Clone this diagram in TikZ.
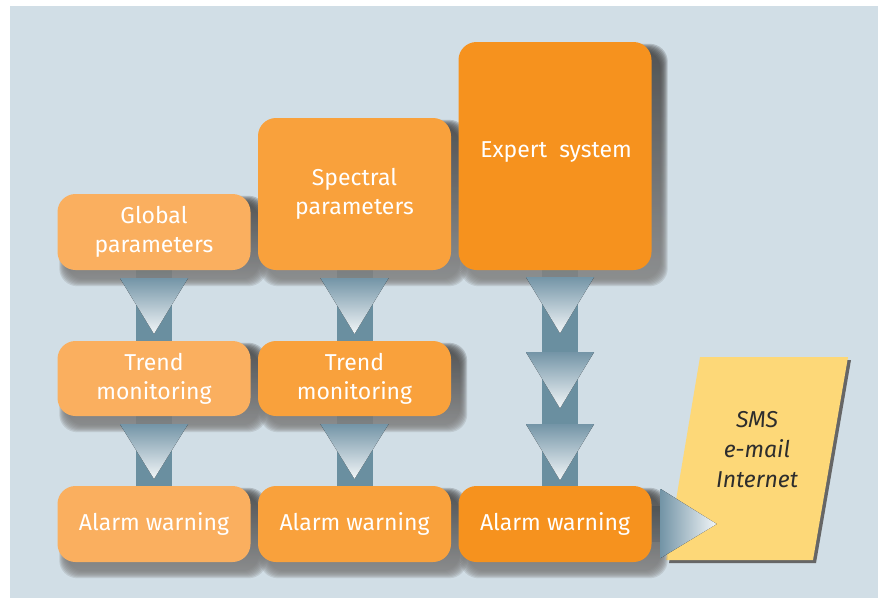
\documentclass[tikz,border=0pt]{standalone}
\usepackage{fontspec}
\setmainfont{Fira Sans}
\usepackage{tikz}
\usetikzlibrary{calc}

\definecolor{bgblue}{RGB}{209,222,230}
\definecolor{orangeA}{RGB}{250,175,95}
\definecolor{orangeB}{RGB}{249,161,60}
\definecolor{orangeC}{RGB}{246,146,30}
\definecolor{steel}{RGB}{106,143,160}
\definecolor{steeltop}{RGB}{116,149,167}
\definecolor{steelend}{RGB}{242,246,248}
\definecolor{smsyellow}{RGB}{253,216,120}
\definecolor{smstext}{RGB}{45,45,45}
\definecolor{shade}{RGB}{40,50,60}

\pgfdeclarelayer{ground}
\pgfdeclarelayer{back}
\pgfdeclarelayer{shadow}
\pgfsetlayers{ground,back,shadow,main}

\tikzset{
  box/.style={rounded corners=18pt, minimum width=193pt, text=white, align=center,
    font=\fontsize{23}{29}\selectfont},
  bar/.style={line width=36pt, draw=steel},
  tri/.style={top color=steeltop, bottom color=steelend},
  hztri/.style={left color=steeltop, right color=steelend}
}

% soft shadow under a box, stacked see-through rectangles
\newcommand{\boxshadow}[1]{%
  \foreach \e in {0,1,...,7}
    \fill [shade, opacity=0.12, rounded corners=18pt]
      ($(#1.south west)+(9-\e,9+\e)$) rectangle ($(#1.north east)+(9+\e,9-\e)$);
}

\begin{document}
\begin{tikzpicture}[x=1pt, y=-1pt]
\useasboundingbox (0,0) rectangle (883,598);
\begin{pgfonlayer}{ground}
\fill [white] (0,0) rectangle (883,598);
\fill [bgblue] (10,6) rectangle (878,598);
\end{pgfonlayer}

\node [box, fill=orangeA, minimum height=76pt] (glob) at (154,232) {Global\\parameters};
\node [box, fill=orangeB, minimum height=152pt] (spec) at (354.5,194) {Spectral\\parameters};
\node [box, fill=orangeC, minimum height=228pt] (expert) at (555,156) {};
\node [text=white, font=\fontsize{23}{29}\selectfont] (experttxt) at ($(expert.north)+(1,110)$) {Expert~~system};

\node [box, fill=orangeA, minimum height=75pt] (trend1) at (154,378.5) {Trend\\monitoring};
\node [box, fill=orangeB, minimum height=75pt] (trend2) at (354.5,378.5) {Trend\\monitoring};

\node [box, fill=orangeA, minimum height=76pt] (alarm1) at (154,524) {Alarm warning};
\node [box, fill=orangeB, minimum height=76pt] (alarm2) at (354.5,524) {Alarm warning};
\node [box, fill=orangeC, minimum height=76pt] (alarm3) at (555,524) {Alarm warning};

\node [text=smstext, align=center, font=\fontsize{23}{30}\selectfont\itshape] (sms) at (757,450) {SMS\\e-mail\\Internet};

\coordinate (c3) at ($(expert.south)+(5,0)$);

\begin{pgfonlayer}{back}
\draw [bar] (glob.south) -- (trend1.north);
\draw [bar] (trend1.south) -- (alarm1.north);
\draw [bar] (spec.south) -- (trend2.north);
\draw [bar] (trend2.south) -- (alarm2.north);
\draw [bar] (c3) -- (c3 |- alarm3.north);
\draw [bar] (alarm3.east) -- ($(alarm3.east)+(20,0)$);
\fill [black!60] ($(sms)+(-54,-90)$) -- ($(sms)+(94,-90)$) -- ($(sms)+(59,113)$) -- ($(sms)+(-88,113)$) -- cycle;
\fill [smsyellow] ($(sms)+(-57,-93)$) -- ($(sms)+(91,-93)$) -- ($(sms)+(56,110)$) -- ($(sms)+(-91,110)$) -- cycle;
\end{pgfonlayer}

\begin{pgfonlayer}{shadow}
\foreach \b in {glob,spec,expert,trend1,trend2,alarm1,alarm2,alarm3}
  \boxshadow{\b};
\end{pgfonlayer}

\fill [tri] ($(glob.south)+(-34,8)$) -- ($(glob.south)+(34,8)$) -- ($(trend1.north)+(0,-7)$) -- cycle;
\fill [tri] ($(trend1.south)+(-34,8)$) -- ($(trend1.south)+(34,8)$) -- ($(alarm1.north)+(0,-7)$) -- cycle;
\fill [tri] ($(spec.south)+(-34,8)$) -- ($(spec.south)+(34,8)$) -- ($(trend2.north)+(0,-7)$) -- cycle;
\fill [tri] ($(trend2.south)+(-34,8)$) -- ($(trend2.south)+(34,8)$) -- ($(alarm2.north)+(0,-7)$) -- cycle;
\foreach \t in {7,82,154}
  \fill [tri] ($(c3)+(-34,\t)$) -- ($(c3)+(34,\t)$) -- ($(c3)+(0,\t+56)$) -- cycle;
\fill [hztri] ($(alarm3.east)+(9,-35)$) -- ($(alarm3.east)+(9,34)$) -- ($(alarm3.east)+(65,0)$) -- cycle;
\end{tikzpicture}
\end{document}
